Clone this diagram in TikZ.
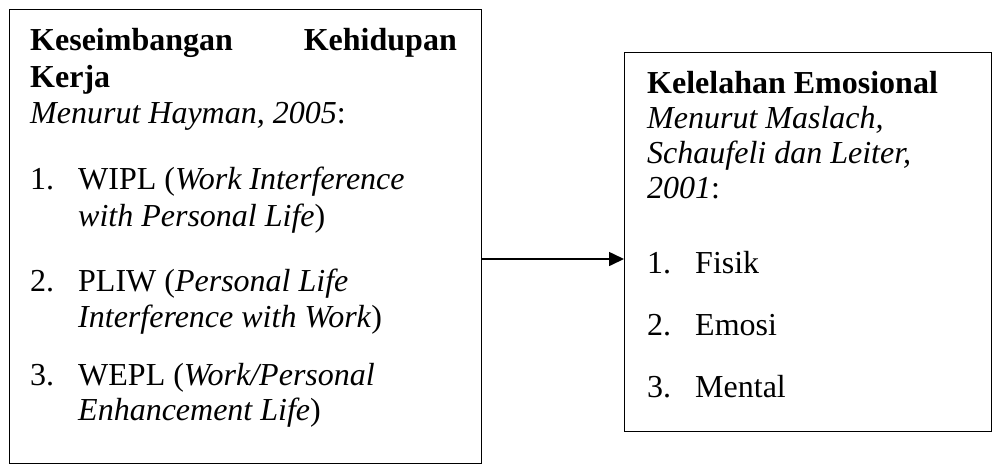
\documentclass[tikz,border=0pt]{standalone}
\usepackage{fontspec}
\setmainfont{Liberation Serif}
\usetikzlibrary{arrows.meta}
\begin{document}
\begin{tikzpicture}[x=1pt,y=-1pt,
  txt/.style={anchor=base west,inner sep=0pt,font=\fontsize{32}{38}\selectfont},
  txte/.style={anchor=base east,inner sep=0pt,font=\fontsize{32}{38}\selectfont},
  boxframe/.style={draw,line width=1.4pt,inner sep=0pt,anchor=north west},
  conn/.style={line width=1.6pt,-{Triangle[length=15pt,width=14pt]}}]
\useasboundingbox (0,0) rectangle (993,464);
% boxes
\node[boxframe,minimum width=472pt,minimum height=454pt] (L) at (9,9) {};
\node[boxframe,minimum width=367pt,minimum height=379pt] (R) at (624,52) {};
% left box text
\node[txt] (lh1) at (30,50) {\bfseries Keseimbangan};
\node[txte] (lh2) at (457,50) {\bfseries Kehidupan};
\node[txt] (lh3) at (30,87) {\bfseries Kerja};
\node[txt] (lh4) at (30,123) {\itshape Menurut Hayman, 2005\upshape:};
\node[txt] (ln1) at (30,189) {1.};
\node[txt] (li1a) at (78,189) {WIPL (\textit{Work Interference}};
\node[txt] (li1b) at (78,226) {\textit{with Personal Life})};
\node[txt] (ln2) at (30,291) {2.};
\node[txt] (li2a) at (78,291) {PLIW (\textit{Personal Life}};
\node[txt] (li2b) at (78,327) {\textit{Interference with Work})};
\node[txt] (ln3) at (30,385) {3.};
\node[txt] (li3a) at (78,385) {WEPL (\textit{Work/Personal}};
\node[txt] (li3b) at (78,420) {\textit{Enhancement Life})};
% right box text
\node[txt] (rh1) at (647,93) {\bfseries Kelelahan Emosional};
\node[txt] (rh2) at (647,128) {\itshape Menurut Maslach,};
\node[txt] (rh3) at (647,163) {\itshape Schaufeli dan Leiter,};
\node[txt] (rh4) at (647,198) {\itshape 2001\upshape:};
\node[txt] (rn1) at (647,273) {1.};
\node[txt] (ri1) at (695,273) {Fisik};
\node[txt] (rn2) at (647,335) {2.};
\node[txt] (ri2) at (695,335) {Emosi};
\node[txt] (rn3) at (647,397) {3.};
\node[txt] (ri3) at (695,397) {Mental};
% connector
\draw[conn] (L.east |- 0,259) -- (R.west |- 0,259);
\end{tikzpicture}
\end{document}
